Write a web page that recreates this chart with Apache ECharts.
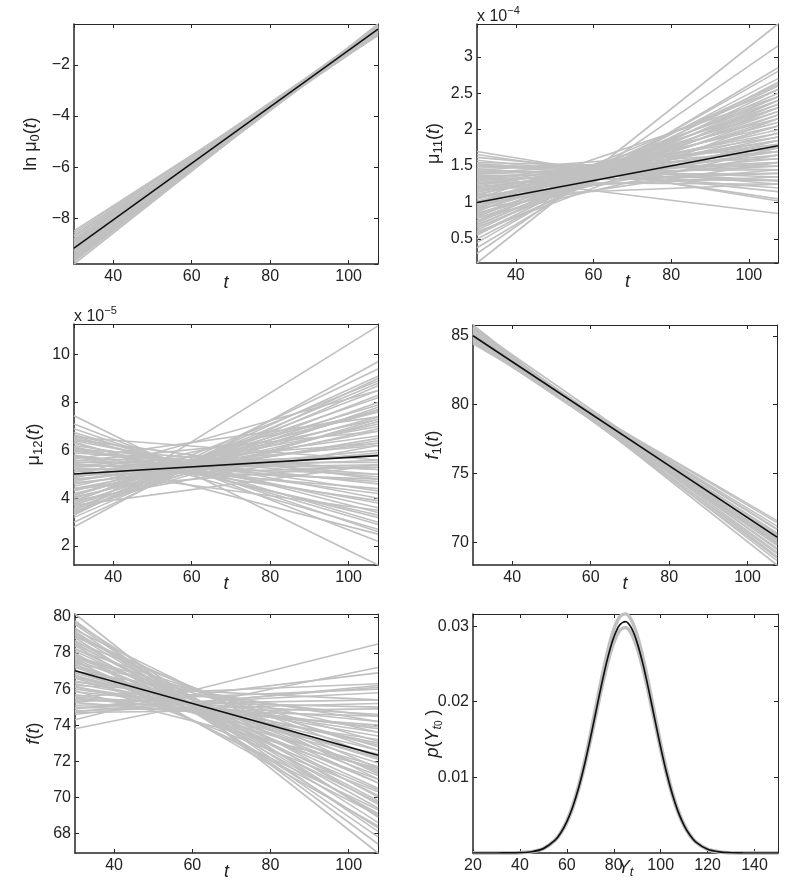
<!DOCTYPE html>
<html><head><meta charset="utf-8">
<script src="https://cdn.jsdelivr.net/npm/echarts@6/dist/echarts.min.js"></script>
<style>html,body{margin:0;padding:0;background:#fff}#c{width:800px;height:889px}</style>
</head><body><div id="c"></div>
<script>
// ---------- DATA ----------
const tEnds = [30, 107.5];

// Panel 1: ln mu0(t)
const lnMu0Mean = [-9.17, -0.6];
const lnMu0Start = [-8.50,-8.58,-8.66,-8.74,-8.82,-8.90,-8.98,-9.04,-9.10,-9.16,-9.22,-9.28,-9.34,-9.40,-9.46,-9.52,-9.58,-9.64,-9.70,-9.79,-8.70,-8.86,-9.00,-9.30,-9.48,-9.60,-9.12,-8.95];
const lnMu0End   = [-0.85,-0.78,-0.72,-0.80,-0.66,-0.74,-0.62,-0.70,-0.58,-0.65,-0.55,-0.62,-0.52,-0.58,-0.49,-0.55,-0.46,-0.52,-0.43,-0.40,-0.60,-0.55,-0.50,-0.70,-0.64,-0.60,-0.48,-0.82];

// Panel 2: mu11(t), units of 1e-4
const mu11Mean = [1.0, 1.78];
const mu11Start = [0.17,0.30,0.38,0.45,0.50,0.55,0.58,0.62,0.65,0.68,0.70,0.72,0.75,0.78,0.80,0.82,0.85,0.88,0.90,0.92,0.95,0.97,1.00,1.02,1.05,1.07,1.10,1.12,1.15,1.17,1.20,1.22,1.25,1.27,1.30,1.32,1.35,1.37,1.40,1.42,1.45,1.47,1.50,1.52,1.55,1.58,1.62,1.66,1.70,1.36,1.28,1.10,0.98,0.85,0.60,1.18,1.05,0.92,
  0.66,0.74,0.83,0.87,0.94,1.01,1.08,1.14,1.19,1.23,1.26,1.31,1.34,1.39,1.44,1.49,1.53,0.57,0.79,1.09];
const mu11End   = [3.45,3.15,2.85,2.80,2.65,2.70,2.55,2.60,2.45,2.50,2.35,2.62,2.40,2.25,2.45,2.30,2.15,2.35,2.05,2.20,1.95,2.25,2.10,1.90,2.00,1.80,2.15,1.85,1.70,1.95,1.75,1.60,1.90,1.65,1.50,1.80,1.55,1.40,1.70,1.45,1.30,1.60,1.35,1.20,1.45,1.15,1.25,1.05,1.02,0.85,1.25,1.45,1.65,1.85,2.15,1.35,2.45,1.55,
  2.30,2.20,2.05,2.55,2.40,2.30,1.70,2.05,1.55,1.85,1.40,1.70,1.30,1.55,1.75,1.50,1.30,2.40,1.75,1.25];

// Panel 3: mu12(t), units of 1e-5
const mu12Mean = [5.01, 5.78];
const mu12Start = [2.80,3.30,7.45,7.10,6.90,6.75,6.65,6.60,6.50,6.40,6.30,6.20,6.10,6.00,5.90,5.80,5.70,5.60,5.50,5.40,5.30,5.20,5.10,5.00,4.90,4.80,4.70,4.60,4.50,4.40,4.30,4.20,4.10,4.00,3.90,3.80,3.70,3.60,3.50,3.40,3.35,3.30,3.20,3.00,5.55,4.85,6.05,4.40,3.90,5.20,5.80,6.55,3.70,4.95,5.65,
  3.45,3.75,4.05,4.35,4.65,4.95,5.25,5.45,5.75,6.15,6.35,3.55,4.15,4.75,5.35,5.95,6.45,3.85];
const mu12End   = [9.70,11.20,1.21,2.20,2.60,3.00,3.40,2.90,3.60,4.00,3.20,4.30,3.80,4.60,4.90,4.20,5.20,4.70,5.50,5.00,5.80,5.40,6.20,5.60,6.60,6.00,7.00,6.40,7.30,6.80,7.60,7.10,7.90,7.40,8.20,7.70,8.50,8.00,8.80,8.30,9.10,9.40,8.70,9.00,6.80,7.60,5.20,5.40,6.20,3.50,2.50,5.60,5.40,8.50,7.40,
  7.80,7.20,6.90,6.50,5.90,5.30,4.80,4.40,3.90,3.30,2.70,7.30,7.70,6.30,6.30,5.00,4.80,8.90];

// Panel 4: f1(t)
const f1Mean = [85.0, 70.4];
const f1Start = [85.78,85.65,85.50,85.40,85.30,85.20,85.10,85.00,84.90,84.80,84.70,84.60,84.50,84.42,85.55,85.35,85.15,84.95,84.75,84.55,85.25,85.45,84.85,85.05,84.65,85.60];
const f1End   = [68.38,68.70,69.00,69.30,69.55,69.80,70.00,70.20,70.45,70.70,70.95,71.20,71.45,71.60,69.50,70.10,70.60,69.60,70.00,70.50,68.90,69.90,71.00,69.20,69.85,70.30];

// Panel 5: f(t)
const fMean = [77.02, 72.33];
const fStart = [80.17,79.80,79.60,79.40,79.20,79.00,78.85,78.70,78.55,78.40,78.25,78.10,77.95,77.80,77.65,77.50,77.35,77.20,77.05,76.90,76.75,76.60,76.45,76.30,76.15,76.00,75.85,75.70,75.55,75.40,75.25,75.10,74.95,74.75,74.70,74.30,73.80,75.60,76.20,77.00,77.80,78.60,79.30,78.00,77.40,76.80,79.10,75.90,77.60,78.90,77.70,
  79.70,79.10,78.45,77.90,77.25,76.65,76.10,75.50,75.00,74.80,76.40,77.45,78.20,79.00,75.30,74.60,74.90];
const fEnd   = [66.90,67.40,68.10,67.80,68.60,69.00,68.30,69.40,69.80,69.10,70.10,70.50,69.70,70.80,71.20,70.40,71.50,71.90,71.00,72.20,72.60,71.70,73.00,73.40,72.40,73.80,74.20,73.20,74.60,75.00,74.00,75.40,75.80,76.10,74.90,78.50,77.20,76.30,75.40,74.20,73.10,72.20,71.00,68.40,69.30,70.30,70.00,71.60,69.00,71.60,72.80,
  68.90,69.60,70.80,71.40,72.10,72.90,73.60,73.90,74.50,75.20,74.50,73.60,72.60,71.30,76.00,76.20,76.90];

// Panel 6: density p(Y_t0)
const densityX     = [20,25,30,35,40,45,50,55,57.5,60,62.5,65,67.5,70,72.5,75,77.5,80,82.5,85,87.5,90,92.5,95,97.5,100,102.5,105,107.5,110,112.5,115,120,125,130,135,140,145,150];
const densityMean  = [0,0,0.000002,0.000009,0.000043,0.00017,0.00058,0.00169,0.0027,0.00414,0.00609,0.0086,0.01164,0.01513,0.01886,0.02256,0.0259,0.02853,0.03016,0.03058,0.02976,0.02778,0.0249,0.0214,0.01766,0.01397,0.01061,0.00774,0.0054,0.00363,0.00234,0.00144,0.00049,0.00014,0.000034,0.000007,0.000001,0,0];
const densityUpper = [0,0,0.000002,0.00001,0.000045,0.00018,0.0006,0.00175,0.0028,0.00428,0.0063,0.0089,0.01205,0.01566,0.01952,0.02335,0.02681,0.02953,0.03122,0.03163,0.0308,0.02875,0.02577,0.02215,0.01828,0.01446,0.01098,0.00801,0.00559,0.00376,0.00242,0.00149,0.00051,0.00015,0.000035,0.000007,0.000001,0,0];
const densityLower = [0,0,0.000002,0.000009,0.000042,0.00016,0.00056,0.00165,0.00263,0.00404,0.00594,0.00839,0.01135,0.01475,0.01839,0.022,0.02525,0.02782,0.02941,0.02982,0.02902,0.02709,0.02428,0.02087,0.01722,0.01362,0.01034,0.00755,0.00527,0.00354,0.00228,0.0014,0.00048,0.00014,0.000033,0.000007,0.000001,0,0];

// ---------- CHART ----------
const FONT = '"Liberation Sans", Arial, Helvetica, sans-serif';
const AX = '#262626';
const GRAY = '#c0c0c0';
const richName = {
  n: {fontSize: 18, lineHeight: 22, verticalAlign: 'middle'},
  i: {fontSize: 18, fontStyle: 'italic', lineHeight: 22, verticalAlign: 'middle'},
  s: {fontSize: 13, lineHeight: 10, verticalAlign: 'bottom'},
  si: {fontSize: 13, fontStyle: 'italic', lineHeight: 10, verticalAlign: 'bottom'},
  ss: {fontSize: 10, lineHeight: 4, verticalAlign: 'bottom'}
};
const minusFmt = v => String(v).replace('-', '\u2212');

const panels = [
  {grid:{left:74,top:24,width:304,height:240}, x:{min:30,max:107.5,splitNumber:5,showMin:false}, y:{min:-9.79,max:-0.4,splitNumber:5},
   yName:'{n|ln μ}{s|0}{n|(}{i|t}{n|)}', yGap:32, xName:'{i|t}', xGap:8, starts:lnMu0Start, ends:lnMu0End, mean:lnMu0Mean},
  {grid:{left:477,top:24,width:301,height:239}, x:{min:30,max:107.5,splitNumber:5,showMin:false}, y:{min:0.17,max:3.45,splitNumber:5},
   yName:'{n|μ}{s|11}{n|(}{i|t}{n|)}', yGap:32, xName:'{i|t}', xGap:8, starts:mu11Start, ends:mu11End, mean:mu11Mean},
  {grid:{left:74,top:324,width:304,height:241}, x:{min:30,max:107.5,splitNumber:5,showMin:false}, y:{min:1.21,max:11.28,splitNumber:5},
   yName:'{n|μ}{s|12}{n|(}{i|t}{n|)}', yGap:29, xName:'{i|t}', xGap:8, starts:mu12Start, ends:mu12End, mean:mu12Mean},
  {grid:{left:473,top:325,width:304,height:240}, x:{min:30,max:107.5,splitNumber:5,showMin:false}, y:{min:68.38,max:85.78,splitNumber:3},
   yName:'{i|f}{s|1}{n|(}{i|t}{n|)}', yGap:29, xName:'{i|t}', xGap:8, starts:f1Start, ends:f1End, mean:f1Mean},
  {grid:{left:75,top:614,width:303,height:239}, x:{min:30,max:107.5,splitNumber:5,showMin:false}, y:{min:66.9,max:80.17,splitNumber:6},
   yName:'{i|f}{n|(}{i|t}{n|)}', yGap:30, xName:'{i|t}', xGap:8, starts:fStart, ends:fEnd, mean:fMean},
  {grid:{left:473,top:614,width:305,height:239}, x:{min:20,max:150,splitNumber:6,showMin:true}, y:{min:0,max:0.0316,splitNumber:3},
   yName:'{i|p}{n|(}{i|Y}{si|t}{ss|0}{n| )}', yGap:29, xName:'{i|Y}{si|t}', xGap:4, density:true}
];

const grid = [], xAxis = [], yAxis = [], series = [];
panels.forEach((p, i) => {
  grid.push(Object.assign({containLabel:false}, p.grid));
  const base = {gridIndex:i, type:'value', splitLine:{show:false}, axisPointer:{show:false}};
  const tick = {show:true, inside:true, length:4, lineStyle:{color:AX, width:1}};
  xAxis.push(Object.assign({}, base, {
    position:'bottom', min:p.x.min, max:p.x.max, splitNumber:p.x.splitNumber,
    axisLine:{show:true, onZero:false, lineStyle:{color:AX, width:1.5}},
    axisTick:tick,
    axisLabel:{color:'#222', fontFamily:FONT, fontSize:16, margin:5, showMinLabel:p.x.showMin, showMaxLabel:false, formatter:minusFmt},
    name:p.xName, nameLocation:'middle', nameGap:p.xGap, nameMoveOverlap:false,
    nameTextStyle:{fontFamily:FONT, fontSize:18, color:'#222', rich:richName}
  }));
  xAxis.push(Object.assign({}, base, {
    position:'top', min:p.x.min, max:p.x.max, splitNumber:p.x.splitNumber,
    axisLine:{show:true, onZero:false, lineStyle:{color:AX, width:1}},
    axisTick:tick, axisLabel:{show:false}
  }));
  yAxis.push(Object.assign({}, base, {
    position:'left', min:p.y.min, max:p.y.max, splitNumber:p.y.splitNumber,
    axisLine:{show:true, onZero:false, lineStyle:{color:AX, width:1.5}},
    axisTick:tick,
    axisLabel:{color:'#222', fontFamily:FONT, fontSize:16, margin:4, showMinLabel:false, showMaxLabel:false, formatter:minusFmt},
    name:p.yName, nameLocation:'middle', nameGap:p.yGap, nameRotate:90, nameMoveOverlap:false,
    nameTextStyle:{fontFamily:FONT, fontSize:18, color:'#222', rich:richName}
  }));
  yAxis.push(Object.assign({}, base, {
    position:'right', min:p.y.min, max:p.y.max, splitNumber:p.y.splitNumber,
    axisLine:{show:true, onZero:false, lineStyle:{color:AX, width:1}},
    axisTick:tick, axisLabel:{show:false}
  }));
  const common = {type:'line', xAxisIndex:2*i, yAxisIndex:2*i, symbol:'none', silent:true, animation:false, clip:true};
  if (p.density) {
    [densityUpper, densityLower].forEach(arr => {
      series.push(Object.assign({}, common, {data:densityX.map((x,k)=>[x, arr[k]]), smooth:0.3, lineStyle:{color:GRAY, width:3.5}, z:2}));
    });
    series.push(Object.assign({}, common, {data:densityX.map((x,k)=>[x, densityMean[k]]), smooth:0.3, lineStyle:{color:'#111', width:1.7}, z:3}));
  } else {
    p.starts.forEach((s, k) => {
      series.push(Object.assign({}, common, {data:[[tEnds[0], s], [tEnds[1], p.ends[k]]], lineStyle:{color:GRAY, width:1.6}, z:2}));
    });
    series.push(Object.assign({}, common, {data:[[tEnds[0], p.mean[0]], [tEnds[1], p.mean[1]]], lineStyle:{color:'#111', width:1.6}, z:3}));
  }
});

const expRich = {
  b: {fontSize: 16, lineHeight: 20, verticalAlign: 'bottom', fontFamily: FONT, fill: '#222'},
  sup: {fontSize: 11, lineHeight: 20, verticalAlign: 'top', fontFamily: FONT, fill: '#222'}
};
const graphic = [
  {type:'text', left:477, top:5, style:{text:'{b|x 10}{sup|\u22124}', rich:expRich, fill:'#222'}},
  {type:'text', left:74, top:305, style:{text:'{b|x 10}{sup|\u22125}', rich:expRich, fill:'#222'}}
];

const chart = echarts.init(document.getElementById('c'), null, {renderer:'canvas'});
chart.setOption({animation:false, backgroundColor:'#fff', grid, xAxis, yAxis, series, graphic});
</script></body></html>
